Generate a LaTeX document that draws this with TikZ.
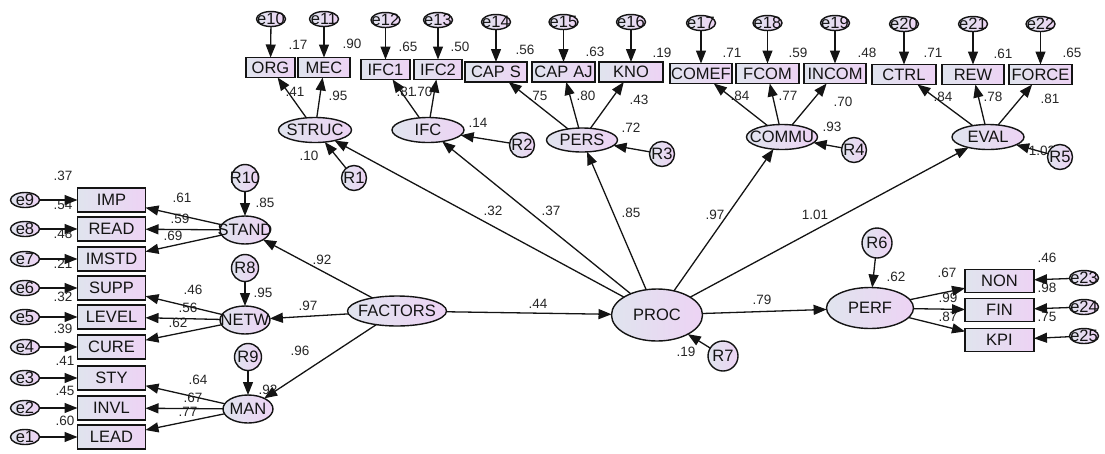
\documentclass[tikz,border=0pt]{standalone}
\usepackage{fontspec}
\setmainfont{Liberation Sans}
\usetikzlibrary{arrows.meta,shapes.geometric}
\definecolor{fillL}{HTML}{E0E4EE}
\definecolor{fillR}{HTML}{EDD3F4}
\definecolor{ink}{HTML}{141414}
\begin{document}
\begin{tikzpicture}[x=1pt,y=-1pt,
  base/.style={draw=ink,line width=1.4pt,left color=fillL,right color=fillR,
    inner sep=0pt,outer sep=0pt},
  lab/.style={label={[font=\fontsize{16.5}{16.5}\selectfont,text=ink,inner sep=0pt]center:#1}},
  tobs/.style={base,rectangle,minimum width=#1,minimum height=20pt},
  lobs/.style={base,rectangle,minimum width=68pt,minimum height=24pt},
  robs/.style={base,rectangle,minimum width=69pt,minimum height=23pt},
  lat/.style 2 args={base,ellipse,minimum width=#1,minimum height=#2},
  err/.style={base,ellipse,minimum width=29pt,minimum height=15pt},
  res/.style={base,circle,minimum size=#1},
  num/.style={font=\fontsize{13.5}{13.5}\selectfont,text=black!85,inner sep=0pt},
  arr/.style={draw=ink,line width=1.3pt,-{Triangle[length=13pt,width=10pt]}},
]
\useasboundingbox (0,0) rectangle (1105,453);

% ---------- coefficients and squared multiple correlations ----------
% top indicators (R^2)
\foreach \v/\x/\y in {.17/298/45,.90/352/44,.65/408/47,.50/460/47,.56/525/50,
  .63/595/52,.19/662/53,.71/732/53,.59/798/53,.48/867/53,.71/933/53,.61/1003/54,.65/1072/53}
  \node[num] at (\x,\y) {\v};
% first-order loadings
\foreach \v/\x/\y in {.41/295/92,.95/338/96,.81/406/92,.70/423/92,.75/538/96,.80/586/96,
  .43/639/100,.84/740/96,.77/788/96,.70/843/102,.84/943/97,.78/993/97,.81/1050/99}
  \node[num] at (\x,\y) {\v};
% latent R^2
\foreach \v/\x/\y in {.10/309/156,.14/478/123,.72/631/128,.93/832/127,1.02/1042/151,
  .85/265/203,.95/263/293,.92/268/390,.19/686/352,.62/896/277}
  \node[num] at (\x,\y) {\v};
% structural paths
\foreach \v/\x/\y in {.32/493/211,.37/551/211,.85/631/213,.97/715/215,1.01/815/215,
  .79/762/300,.44/538/304,.92/322/260,.97/308/306,.96/300/351}
  \node[num] at (\x,\y) {\v};
% left loadings and R^2
\foreach \v/\x/\y in {.61/182/198,.59/180/219,.69/173/236,.46/193/290,.56/188/308,
  .62/178/323,.64/198/380,.67/193/398,.77/188/412}
  \node[num] at (\x,\y) {\v};
\foreach \v/\x/\y in {.37/63/176,.54/63/205,.48/63/234,.21/63/264,.32/63/297,
  .39/63/329,.41/65/361,.45/65/391,.60/65/421}
  \node[num] at (\x,\y) {\v};
% right loadings and R^2
\foreach \v/\x/\y in {.46/1047/258,.98/1047/288,.75/1047/317,.67/947/273,.99/948/298,.87/948/317}
  \node[num] at (\x,\y) {\v};

% ---------- top indicators ----------
\node[tobs=49,lab=ORG]   (ORG)   at (270.5,67.5) {};
\node[tobs=52,lab=MEC]   (MEC)   at (324,67.5) {};
\node[tobs=49,lab=IFC1]  (IFC1)  at (385.5,69.5) {};
\node[tobs=48,lab=IFC2]  (IFC2)  at (438,69.5) {};
\node[tobs=62,lab={CAP\hspace{5pt}S}]  (CAPS)  at (496,72) {};
\node[tobs=63,lab={CAP\hspace{5pt}AJ}] (CAPAJ) at (563.5,72) {};
\node[tobs=64,lab=KNO]   (KNO)   at (631,72) {};
\node[tobs=62,lab=COMEF] (COMEF) at (701,73.5) {};
\node[tobs=63,lab=FCOM]  (FCOM)  at (767.5,73.5) {};
\node[tobs=62,lab=INCOM] (INCOM) at (835,73.5) {};
\node[tobs=64,lab=CTRL]  (CTRL)  at (904,74.5) {};
\node[tobs=62,lab=REW]   (REW)   at (973,74.5) {};
\node[tobs=63,lab=FORCE] (FORCE) at (1040.5,74.5) {};

% top error terms
\foreach \n/\b/\x/\y in {10/ORG/271/19,11/MEC/324/19,12/IFC1/385.5/20,13/IFC2/438/20,
  14/CAPS/496/22,15/CAPAJ/563.5/22,16/KNO/631/22,17/COMEF/701/23,18/FCOM/767.5/23,
  19/INCOM/835/23,20/CTRL/904/24,21/REW/973/24,22/FORCE/1040.5/24}
  {\node[err,lab={e\n}] (e\n) at (\x,\y) {};
   \draw[arr] (e\n) -- (\b);}

% ---------- left indicators ----------
\foreach \b/\n/\y in {IMP/9/200,READ/8/229,IMSTD/7/259,SUPP/6/288,LEVEL/5/317,
  CURE/4/347,STY/3/378,INVL/2/408,LEAD/1/437}
  {\node[lobs,lab=\b] (\b) at (111.5,\y) {};
   \node[err,lab={e\n}] (e\n) at (25,\y) {};
   \draw[arr] (e\n) -- (\b);}

% ---------- right indicators ----------
\foreach \b/\n/\y/\ey in {NON/23/281/278,FIN/24/310/307,KPI/25/340/336}
  {\node[robs,lab=\b] (\b) at (999.5,\y) {};
   \node[err,lab={e\n}] (e\n) at (1084,\ey) {};
   \draw[arr] (e\n) -- (\b);}

% ---------- latent variables ----------
\node[lat={73}{25},lab=STRUC] (STRUC) at (315,130) {};
\node[lat={72}{25},lab=IFC]   (IFC)   at (428,130) {};
\node[lat={71}{24},lab=PERS]  (PERS)  at (582,140) {};
\node[lat={71}{25},lab=COMMU] (COMMU) at (782,137) {};
\node[lat={72}{25},lab=EVAL]  (EVAL)  at (988,137) {};
\node[lat={50}{28},lab=STAND] (STAND) at (245,230) {};
\node[lat={50}{28},lab=NETW]  (NETW)  at (245,320) {};
\node[lat={50}{28},lab=MAN]   (MAN)   at (248,409) {};
\node[lat={99}{30},lab=FACTORS] (FACTORS) at (397,311) {};
\node[lat={91}{52},lab=PROC]  (PROC)  at (657,315) {};
\node[lat={87}{41},lab=PERF]  (PERF)  at (870,308) {};

% disturbances
\node[res=25pt,lab=R1]  (R1)  at (354,178) {};
\node[res=25pt,lab=R2]  (R2)  at (522,145) {};
\node[res=25pt,lab=R3]  (R3)  at (662,154) {};
\node[res=25pt,lab=R4]  (R4)  at (854,150) {};
\node[res=25pt,lab=R5]  (R5)  at (1060,157) {};
\node[res=27pt,lab=R10] (R10) at (245,178) {};
\node[res=27pt,lab=R8]  (R8)  at (245,268) {};
\node[res=27pt,lab=R9]  (R9)  at (248,357) {};
\node[res=30pt,lab=R6]  (R6)  at (877,243) {};
\node[res=30pt,lab=R7]  (R7)  at (723,356) {};

% ---------- paths ----------
\foreach \l/\b in {STRUC/ORG,STRUC/MEC,IFC/IFC1,IFC/IFC2,PERS/CAPS,PERS/CAPAJ,PERS/KNO,
  COMMU/COMEF,COMMU/FCOM,COMMU/INCOM,EVAL/CTRL,EVAL/REW,EVAL/FORCE,
  STAND/IMP,STAND/READ,STAND/IMSTD,NETW/SUPP,NETW/LEVEL,NETW/CURE,
  MAN/STY,MAN/INVL,MAN/LEAD,PERF/NON,PERF/FIN,PERF/KPI}
  \draw[arr] (\l) -- (\b);
\foreach \a/\b in {PROC/STRUC,PROC/IFC,PROC/PERS,PROC/COMMU,PROC/EVAL,PROC/PERF,
  FACTORS/PROC,FACTORS/STAND,FACTORS/NETW,FACTORS/MAN,
  R1/STRUC,R2/IFC,R3/PERS,R4/COMMU,R5/EVAL,R6/PERF,R7/PROC,R10/STAND,R8/NETW,R9/MAN}
  \draw[arr] (\a) -- (\b);
\end{tikzpicture}
\end{document}
